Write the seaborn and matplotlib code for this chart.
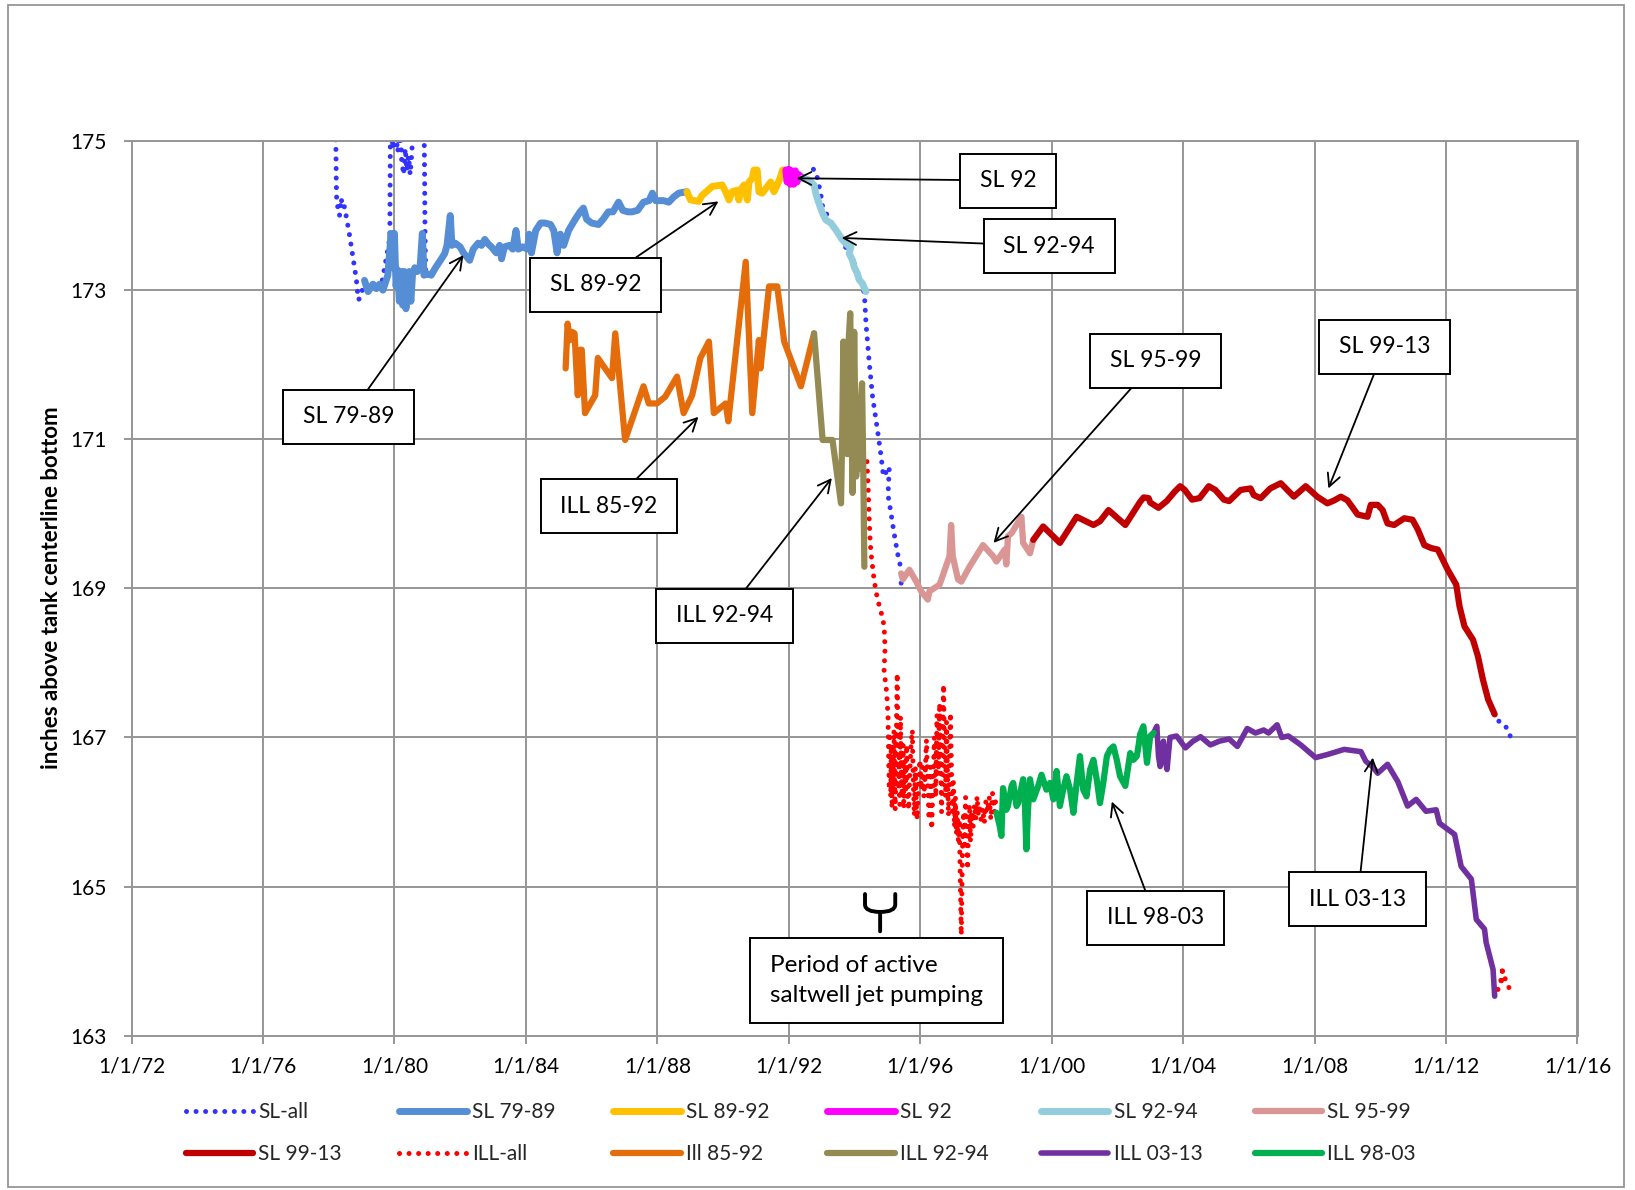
import numpy as np
import pandas as pd
import matplotlib
matplotlib.use("Agg")
import matplotlib.pyplot as plt
import seaborn as sns
from matplotlib.lines import Line2D
from matplotlib.path import Path
from matplotlib.patches import Rectangle, PathPatch

# ---------------- data (decimal year, inches) ----------------
sl_all_year = [1978.21, 1978.22, 1978.23, 1978.24, 1978.28, 1978.33, 1978.38, 1978.43, 1978.48, 1978.55,
               1978.63, 1978.70, 1978.77, 1978.84, 1978.90, 1978.97, 1979.05, 1979.30, 1979.60, 1979.86,
               1979.87, 1979.88, 1979.95, 1980.02, 1980.10, 1980.18, 1980.22, 1980.28, 1980.33, 1980.38,
               1980.43, 1980.48, 1980.53, 1980.58, 1980.90, 1980.92, 1980.93, 1980.95, np.nan,
               1992.75, 1992.82, 1992.87, 1992.92, 1992.97, 1993.03, 1993.30, 1993.70, 1994.00, 1994.30,
               1994.35, 1994.45, 1994.55, 1994.70, 1994.81, 1994.88, 1995.06, 1995.02, 1995.11, 1995.20,
               1995.31, 1995.37, 1995.42, 1995.42, np.nan,
               2013.45, 2013.53, 2013.60, 2013.68, 2013.75, 2013.84, 2013.92, 2014.00]
sl_all_val = [175.40, 174.90, 174.50, 174.25, 174.10, 174.00, 174.23, 174.10, 174.12, 173.95,
              173.75, 173.55, 173.35, 173.15, 172.87, 172.90, 173.05, 173.05, 173.05, 173.70,
              174.50, 175.40, 174.90, 175.20, 174.85, 175.20, 174.75, 174.55, 174.90, 174.60,
              174.80, 174.55, 174.85, 175.30, 175.30, 174.50, 173.80, 173.25, np.nan,
              174.62, 174.60, 174.50, 174.40, 174.30, 174.12, 173.90, 173.60, 173.35, 172.96,
              172.55, 172.02, 171.57, 171.12, 170.77, 170.50, 170.63, 170.25, 170.01, 169.75,
              169.47, 169.35, 169.25, 169.00, np.nan,
              167.32, 167.24, 167.22, 167.20, 167.18, 167.13, 167.07, 166.94]

sl_79_89_year = [1979.09, 1979.20, 1979.35, 1979.45, 1979.55, 1979.65, 1979.80, 1979.90, 1979.95, 1980.00,
                 1980.05, 1980.10, 1980.15, 1980.20, 1980.25, 1980.30, 1980.35, 1980.45, 1980.50, 1980.55,
                 1980.62, 1980.70, 1980.78, 1980.85, 1980.90, 1981.00, 1981.12, 1981.25, 1981.40, 1981.53,
                 1981.60, 1981.70, 1981.75, 1981.85, 1982.00, 1982.10, 1982.29, 1982.40, 1982.55, 1982.65,
                 1982.75, 1982.85, 1982.95, 1983.10, 1983.20, 1983.26, 1983.35, 1983.50, 1983.60, 1983.70,
                 1983.77, 1983.90, 1984.05, 1984.10, 1984.17, 1984.30, 1984.45, 1984.58, 1984.75, 1984.85,
                 1984.95, 1985.05, 1985.15, 1985.30, 1985.50, 1985.65, 1985.75, 1985.85, 1986.00, 1986.21,
                 1986.35, 1986.51, 1986.65, 1986.82, 1986.95, 1987.10, 1987.23, 1987.40, 1987.58, 1987.75,
                 1987.85, 1987.95, 1988.19, 1988.35, 1988.50, 1988.65, 1988.90]
sl_79_89_val = [173.13, 172.98, 173.08, 173.02, 173.08, 173.00, 173.20, 173.76, 173.30, 173.76,
                173.05, 173.27, 172.85, 173.25, 172.80, 173.25, 172.75, 173.25, 172.85, 173.20,
                173.30, 173.25, 173.30, 173.76, 173.20, 173.22, 173.20, 173.30, 173.40, 173.49,
                173.60, 174.00, 173.60, 173.63, 173.58, 173.50, 173.40, 173.55, 173.63, 173.60,
                173.68, 173.62, 173.58, 173.50, 173.60, 173.42, 173.58, 173.60, 173.55, 173.80,
                173.55, 173.58, 173.55, 173.75, 173.50, 173.80, 173.90, 173.90, 173.88, 173.80,
                173.50, 173.75, 173.60, 173.80, 173.95, 174.05, 174.10, 173.95, 173.90, 173.88,
                173.95, 174.05, 174.05, 174.18, 174.07, 174.05, 174.05, 174.07, 174.18, 174.20,
                174.30, 174.20, 174.20, 174.18, 174.25, 174.30, 174.32]

sl_89_92_year = [1988.90, 1989.01, 1989.26, 1989.36, 1989.67, 1989.97, 1990.08, 1990.18, 1990.28, 1990.43,
                 1990.48, 1990.53, 1990.64, 1990.74, 1990.79, 1990.89, 1990.94, 1991.04, 1991.09, 1991.19,
                 1991.35, 1991.45, 1991.55, 1991.65, 1991.75, 1991.81, 1991.91]
sl_89_92_val = [174.32, 174.21, 174.19, 174.27, 174.39, 174.41, 174.32, 174.21, 174.32, 174.34,
                174.21, 174.34, 174.41, 174.21, 174.45, 174.50, 174.61, 174.61, 174.32, 174.30,
                174.39, 174.45, 174.32, 174.41, 174.52, 174.61, 174.61]

sl_92_year = [1991.91, 1991.95, 1992.00, 1992.05, 1992.10, 1992.15, 1992.20, 1992.25, 1992.30, 1992.42]
sl_92_val = [174.61, 174.45, 174.62, 174.42, 174.60, 174.42, 174.60, 174.45, 174.55, 174.50]

sl_92_94_year = [1992.42, 1992.60, 1992.77, 1992.82, 1992.92, 1993.03, 1993.13, 1993.28, 1993.43, 1993.64,
                 1993.79, 1993.89, 1993.84, 1993.94, 1993.99, 1994.09, 1994.14, 1994.24, 1994.35]
sl_92_94_val = [174.50, 174.48, 174.41, 174.30, 174.16, 174.03, 173.94, 173.90, 173.81, 173.67,
                173.60, 173.58, 173.49, 173.40, 173.31, 173.22, 173.14, 173.09, 172.98]

sl_95_99_year = [1995.42, 1995.47, 1995.67, 1995.88, 1996.03, 1996.23, 1996.28, 1996.59, 1996.89, 1996.94,
                 1996.99, 1997.15, 1997.25, 1997.50, 1997.91, 1998.22, 1998.32, 1998.57, 1998.62, 1998.67,
                 1998.78, 1999.08, 1999.13, 1999.34, 1999.44]
sl_95_99_val = [169.20, 169.12, 169.25, 169.09, 168.96, 168.85, 168.96, 169.05, 169.43, 169.85,
                169.43, 169.12, 169.09, 169.29, 169.58, 169.43, 169.36, 169.52, 169.32, 169.70,
                169.74, 169.96, 169.61, 169.47, 169.65]

sl_99_13_year = [1999.44, 1999.74, 2000.25, 2000.76, 2001.27, 2001.47, 2001.73, 2002.24, 2002.69, 2002.80,
                 2002.95, 2003.00, 2003.25, 2003.50, 2003.75, 2003.91, 2004.05, 2004.27, 2004.50, 2004.78,
                 2004.98, 2005.24, 2005.40, 2005.75, 2006.05, 2006.15, 2006.36, 2006.65, 2006.97, 2007.17,
                 2007.37, 2007.73, 2008.08, 2008.39, 2008.60, 2008.80, 2009.00, 2009.31, 2009.61, 2009.71,
                 2009.92, 2010.07, 2010.22, 2010.42, 2010.73, 2010.98, 2011.14, 2011.34, 2011.55, 2011.75,
                 2012.05, 2012.31, 2012.41, 2012.56, 2012.82, 2012.97, 2013.12, 2013.28, 2013.48]
sl_99_13_val = [169.65, 169.83, 169.61, 169.96, 169.85, 169.90, 170.05, 169.85, 170.16, 170.22,
                170.21, 170.15, 170.08, 170.17, 170.30, 170.37, 170.32, 170.19, 170.21, 170.37,
                170.32, 170.19, 170.17, 170.32, 170.34, 170.25, 170.21, 170.34, 170.41, 170.32,
                170.23, 170.37, 170.23, 170.14, 170.18, 170.23, 170.18, 169.99, 169.96, 170.12,
                170.12, 170.05, 169.87, 169.85, 169.94, 169.92, 169.79, 169.58, 169.54, 169.52,
                169.25, 169.05, 168.76, 168.49, 168.31, 168.09, 167.78, 167.51, 167.31]

ill_all_year = [1994.38, 1994.42, 1994.45, 1994.48, 1994.52, 1994.56, 1994.60, 1994.70, 1994.80, 1994.90,
                1994.93, 1994.90, 1994.98, 1995.02, 1995.04, 1995.06, 1995.08, 1995.10, 1995.12, 1995.14,
                1995.16, 1995.18, 1995.20, 1995.22, 1995.24, 1995.26, 1995.28, 1995.30, 1995.32, 1995.34,
                1995.36, 1995.38, 1995.40, 1995.42, 1995.45, 1995.48, 1995.50, 1995.53, 1995.56, 1995.59,
                1995.62, 1995.65, 1995.68, 1995.72, 1995.76, 1995.79, 1995.82, 1995.85, 1995.88, 1995.91,
                1995.95, 1995.99, 1996.03, 1996.07, 1996.11, 1996.15, 1996.19, 1996.23, 1996.27, 1996.31,
                1996.35, 1996.39, 1996.43, 1996.47, 1996.51, 1996.55, 1996.59, 1996.62, 1996.65, 1996.68,
                1996.71, 1996.74, 1996.77, 1996.80, 1996.83, 1996.86, 1996.89, 1996.92, 1996.95, 1996.98,
                1997.01, 1997.04, 1997.07, 1997.10, 1997.13, 1997.16, 1997.19, 1997.21, 1997.23, 1997.25,
                1997.27, 1997.29, 1997.32, 1997.35, 1997.38, 1997.41, 1997.44, 1997.47, 1997.50, 1997.53,
                1997.57, 1997.61, 1997.65, 1997.69, 1997.73, 1997.77, 1997.81, 1997.85, 1997.90, 1997.95,
                1998.00, 1998.05, 1998.10, 1998.15, 1998.20, 1998.26, 1998.32, np.nan,
                2013.58, 2013.68, 2013.73, 2013.68, 2013.78, 2013.89, 2013.97]
ill_all_val = [170.70, 170.30, 169.90, 169.60, 169.40, 169.25, 169.10, 168.85, 168.70, 168.50,
               168.20, 167.90, 167.60, 167.28, 166.70, 166.30, 167.00, 166.20, 166.90, 166.05,
               166.70, 166.30, 167.10, 166.40, 166.03, 166.60, 167.30, 167.86, 167.00, 166.30,
               166.80, 166.10, 167.28, 166.60, 166.20, 166.90, 166.05, 166.70, 166.30, 166.90,
               166.20, 166.03, 166.50, 166.90, 167.10, 166.40, 165.95, 166.60, 166.10, 165.90,
               166.40, 166.70, 166.30, 166.60, 166.20, 166.50, 166.97, 166.30, 165.90, 166.60,
               165.77, 166.40, 167.00, 166.20, 167.30, 166.50, 167.46, 166.60, 166.00, 166.90,
               167.71, 166.80, 166.20, 167.20, 166.50, 165.95, 166.80, 167.33, 166.60, 166.00,
               166.40, 165.80, 166.20, 165.70, 166.00, 165.60, 165.90, 165.30, 164.80, 164.35,
               165.00, 165.60, 166.00, 165.50, 166.20, 165.70, 165.23, 165.80, 166.10, 165.60,
               166.00, 165.80, 166.10, 165.90, 166.21, 165.95, 166.10, 165.90, 166.05, 165.85,
               166.15, 166.00, 166.20, 165.90, 166.25, 166.00, 166.26, np.nan,
               163.62, 163.76, 163.93, 163.71, 163.78, 163.69, 163.54]

ill_85_92_year = [1985.21, 1985.27, 1985.34, 1985.40, 1985.48, 1985.58, 1985.65, 1985.70, 1985.80, 1986.11,
                  1986.19, 1986.41, 1986.62, 1986.72, 1987.02, 1987.58, 1987.74, 1987.99, 1988.24, 1988.60,
                  1988.80, 1989.06, 1989.31, 1989.57, 1989.72, 1990.08, 1990.16, 1990.69, 1990.89, 1991.09,
                  1991.14, 1991.40, 1991.65, 1991.86, 1992.37, 1992.77]
ill_85_92_val = [171.95, 172.55, 172.33, 172.44, 172.42, 171.59, 172.20, 172.20, 171.35, 171.59,
                 172.09, 171.95, 171.82, 172.42, 170.99, 171.71, 171.48, 171.48, 171.57, 171.84,
                 171.35, 171.59, 172.09, 172.31, 171.35, 171.48, 171.24, 173.38, 171.35, 172.33,
                 171.95, 173.05, 173.05, 172.31, 171.71, 172.42]

ill_92_94_year = [1992.77, 1993.03, 1993.33, 1993.59, 1993.63, 1993.66, 1993.70, 1993.74, 1993.78, 1993.82,
                  1993.87, 1993.90, 1993.94, 1993.97, 1993.99, 1994.05, 1994.09, 1994.13, 1994.18, 1994.23,
                  1994.27, 1994.30]
ill_92_94_val = [172.42, 170.99, 170.99, 170.14, 171.20, 172.31, 171.00, 172.20, 170.80, 172.30,
                 172.69, 171.60, 170.28, 171.50, 172.44, 170.50, 171.00, 170.60, 171.40, 171.75,
                 170.50, 169.29]

ill_03_13_year = [2003.10, 2003.20, 2003.25, 2003.30, 2003.40, 2003.45, 2003.51, 2003.60, 2003.80, 2004.07,
                  2004.30, 2004.53, 2004.83, 2005.10, 2005.40, 2005.65, 2005.95, 2006.20, 2006.45, 2006.60,
                  2006.86, 2007.00, 2007.20, 2007.58, 2008.03, 2008.38, 2008.90, 2009.41, 2009.56, 2009.76,
                  2009.92, 2010.22, 2010.53, 2010.83, 2011.09, 2011.39, 2011.70, 2011.80, 2012.26, 2012.46,
                  2012.77, 2012.92, 2013.17, 2013.22, 2013.43, 2013.48]
ill_03_13_val = [167.06, 167.15, 166.75, 166.61, 166.95, 166.70, 166.57, 167.00, 167.02, 166.86,
                 166.95, 167.01, 166.90, 166.95, 166.98, 166.88, 167.12, 167.06, 167.10, 167.06,
                 167.17, 167.00, 167.02, 166.90, 166.73, 166.77, 166.84, 166.81, 166.68, 166.61,
                 166.52, 166.64, 166.41, 166.08, 166.17, 166.01, 166.03, 165.85, 165.70, 165.27,
                 165.10, 164.56, 164.43, 164.25, 163.89, 163.53]

ill_98_03_year = [1998.32, 1998.42, 1998.47, 1998.52, 1998.62, 1998.67, 1998.78, 1998.83, 1998.93, 1998.98,
                  1999.13, 1999.18, 1999.23, 1999.28, 1999.34, 1999.44, 1999.59, 1999.69, 1999.84, 1999.95,
                  2000.05, 2000.15, 2000.25, 2000.35, 2000.45, 2000.56, 2000.66, 2000.76, 2000.86, 2000.96,
                  2001.06, 2001.17, 2001.27, 2001.37, 2001.47, 2001.57, 2001.68, 2001.78, 2001.88, 2001.98,
                  2002.08, 2002.24, 2002.39, 2002.49, 2002.59, 2002.64, 2002.69, 2002.79, 2002.90, 2003.00,
                  2003.10]
ill_98_03_val = [165.99, 165.81, 165.68, 166.32, 166.03, 166.08, 166.35, 166.39, 166.08, 166.12,
                 166.44, 166.17, 165.50, 166.03, 166.44, 166.17, 166.35, 166.50, 166.30, 166.39,
                 166.17, 166.55, 166.08, 166.30, 166.48, 166.30, 165.99, 166.39, 166.75, 166.30,
                 166.21, 166.57, 166.70, 166.44, 166.12, 166.39, 166.75, 166.84, 166.88, 166.70,
                 166.48, 166.35, 166.79, 166.70, 166.75, 166.88, 167.04, 167.15, 166.66, 167.02,
                 167.06]

x_ticks = list(range(1972, 2017, 4))
x_tick_labels = ["1/1/%02d" % (y % 100) for y in x_ticks]
y_ticks = [163, 165, 167, 169, 171, 173, 175]

# label, arrow target (year, value), box centre (year, value)
callouts = [
    ("SL 92", (1992.24, 174.50), (1998.68, 174.47)),
    ("SL 92-94", (1993.61, 173.70), (1999.92, 173.59)),
    ("SL 89-92", (1989.86, 174.19), (1986.12, 173.07)),
    ("SL 79-89", (1982.10, 173.47), (1978.60, 171.30)),
    ("ILL 85-92", (1989.25, 171.30), (1986.53, 170.10)),
    ("ILL 92-94", (1993.31, 170.48), (1990.05, 168.63)),
    ("SL 95-99", (1998.23, 169.61), (2003.16, 172.05)),
    ("SL 99-13", (2008.42, 170.34), (2010.14, 172.24)),
    ("ILL 98-03", (2001.83, 166.14), (2003.16, 164.58)),
    ("ILL 03-13", (2009.77, 166.73), (2009.31, 164.83)),
]

# series: name, years, values, colour, width, dotted
series = [
    ("SL-all", sl_all_year, sl_all_val, "#3333FF", 3.6, True),
    ("SL 79-89", sl_79_89_year, sl_79_89_val, "#558ED5", 5.0, False),
    ("SL 89-92", sl_89_92_year, sl_89_92_val, "#FFC000", 5.0, False),
    ("SL 92", sl_92_year, sl_92_val, "#FF00FF", 5.0, False),
    ("SL 92-94", sl_92_94_year, sl_92_94_val, "#93CDDD", 5.0, False),
    ("SL 95-99", sl_95_99_year, sl_95_99_val, "#D99694", 4.5, False),
    ("SL 99-13", sl_99_13_year, sl_99_13_val, "#C00000", 4.5, False),
    ("ILL-all", ill_all_year, ill_all_val, "#FF0000", 3.6, True),
    ("Ill 85-92", ill_85_92_year, ill_85_92_val, "#E46C0A", 4.5, False),
    ("ILL 92-94", ill_92_94_year, ill_92_94_val, "#948A54", 4.5, False),
    ("ILL 03-13", ill_03_13_year, ill_03_13_val, "#7030A0", 4.0, False),
    ("ILL 98-03", ill_98_03_year, ill_98_03_val, "#00B050", 4.5, False),
]

DOT = (0, (0.01, 1.9))

# ---------------- figure ----------------
sns.set_theme(style="white")
plt.rcParams["font.family"] = ["Lato", "DejaVu Sans"]

W, H = 1635, 1190
fig = plt.figure(figsize=(W / 100, H / 100), dpi=100)
ax_l, ax_r, ax_t, ax_b = 131.5, 1577.5, 141.0, 1035.7
ax = fig.add_axes([ax_l / W, 1 - ax_b / H, (ax_r - ax_l) / W, (ax_b - ax_t) / H])


def style_kw(color, lw, dotted):
    kw = dict(color=color, linewidth=lw)
    if dotted:
        kw.update(linestyle=DOT, dash_capstyle="round")
    else:
        kw.update(linestyle="-", solid_capstyle="round", solid_joinstyle="round")
    return kw


handles = {}
for i, (name, yrs, vals, color, lw, dotted) in enumerate(series):
    df = pd.DataFrame({"year": yrs, "value": vals})
    seg = df["value"].isna().cumsum()
    ok = df["value"].notna()
    for _, part in df[ok].groupby(seg[ok]):
        sns.lineplot(data=part, x="year", y="value", ax=ax, sort=False, estimator=None,
                     legend=False, zorder=2 + i * 0.01, **style_kw(color, lw, dotted))
        if dotted:
            ax.lines[-1].set_dash_capstyle("round")
    handles[name] = Line2D([], [], **style_kw(color, lw, dotted))

ax.set_xlim(1972, 2016)
ax.set_ylim(163, 175)
ax.set_xticks(x_ticks)
ax.set_xticklabels(x_tick_labels)
ax.set_yticks(y_ticks)
ax.set_yticklabels([str(v) for v in y_ticks])
ax.set_xlabel("")
ax.set_ylabel("inches above tank centerline bottom", fontsize=16, fontweight="bold", color="black")
ax.yaxis.label.set_va("center")
ax.yaxis.set_label_coords((52 - ax_l) / (ax_r - ax_l), (ax_b - 588) / (ax_b - ax_t))

grid_c = "#969696"
ax.grid(True, color=grid_c, linewidth=1.4)
ax.set_axisbelow(True)
for sp in ax.spines.values():
    sp.set_color(grid_c)
    sp.set_linewidth(1.4)
    sp.set_visible(True)
ax.tick_params(axis="both", direction="out", length=6, width=1.4, color=grid_c,
               labelsize=15, labelcolor="black")
ax.tick_params(axis="x", pad=9, bottom=True)
ax.tick_params(axis="y", pad=12, left=True)


def box_style(x0, y0, width, height, mutation_size):
    px = 0.86 * mutation_size
    py = 0.72 * mutation_size
    a, b = x0 - px, y0 - py
    c, d = x0 + width + px, y0 + height + py
    return Path([(a, b), (c, b), (c, d), (a, d), (a, b)], closed=True)


def period_box(x0, y0, width, height, mutation_size):
    px = 0.82 * mutation_size
    py = 0.7 * mutation_size
    a, b = x0 - px, y0 - py
    c, d = x0 + width + px, y0 + height + py
    return Path([(a, b), (c, b), (c, d), (a, d), (a, b)], closed=True)


for text, tip, centre in callouts:
    ax.annotate(text, xy=tip, xytext=centre, textcoords="data", ha="center", va="center",
                fontsize=16.5, color="black", zorder=10,
                bbox=dict(boxstyle=box_style, fc="white", ec="black", lw=1.4),
                arrowprops=dict(arrowstyle="->,head_length=0.55,head_width=0.28", color="black",
                                lw=1.3, shrinkA=0, shrinkB=0))

ax.text(1991.43, 163.74, "Period of active\nsaltwell jet pumping", ha="left", va="center",
        fontsize=17.5, linespacing=1.55, color="black", zorder=10,
        bbox=dict(boxstyle=period_box, fc="white", ec="black", lw=1.4))

# small fork-shaped bracket above the period box
bx_l, bx_c, bx_r = 1994.32, 1994.78, 1995.24
brace = Path([(bx_l, 164.90), (bx_l, 164.76), (bx_l, 164.66), (bx_c, 164.66),
              (bx_r, 164.66), (bx_r, 164.76), (bx_r, 164.90),
              (bx_c, 164.66), (bx_c, 164.40)],
             [Path.MOVETO, Path.LINETO, Path.CURVE3, Path.CURVE3,
              Path.CURVE3, Path.CURVE3, Path.LINETO,
              Path.MOVETO, Path.LINETO])
ax.add_patch(PathPatch(brace, fill=False, ec="black", lw=2.8, zorder=10, capstyle="round"))

# legend: 2 rows x 6 columns, placed like the original
row1 = ["SL-all", "SL 79-89", "SL 89-92", "SL 92", "SL 92-94", "SL 95-99"]
row2 = ["SL 99-13", "ILL-all", "Ill 85-92", "ILL 92-94", "ILL 03-13", "ILL 98-03"]
col_x0, col_dx = 185.5, 213.8
row_y = [1112.0, 1154.0]
for r, row in enumerate([row1, row2]):
    for c, name in enumerate(row):
        fig.legend(handles=[handles[name]], labels=[name], loc="center left",
                   bbox_to_anchor=((col_x0 + c * col_dx) / W, 1 - row_y[r] / H),
                   frameon=False, fontsize=15, handlelength=3.25, handletextpad=0.25,
                   borderpad=0, borderaxespad=0)

# outer chart border
fig.add_artist(Rectangle((8.3 / W, 3.4 / H), (1623.5 - 8.3) / W, (1186.6 - 5.2) / H,
                         transform=fig.transFigure, fill=False, ec="#8c8c8c", lw=1.2))

fig.savefig("out.png", dpi=100)
